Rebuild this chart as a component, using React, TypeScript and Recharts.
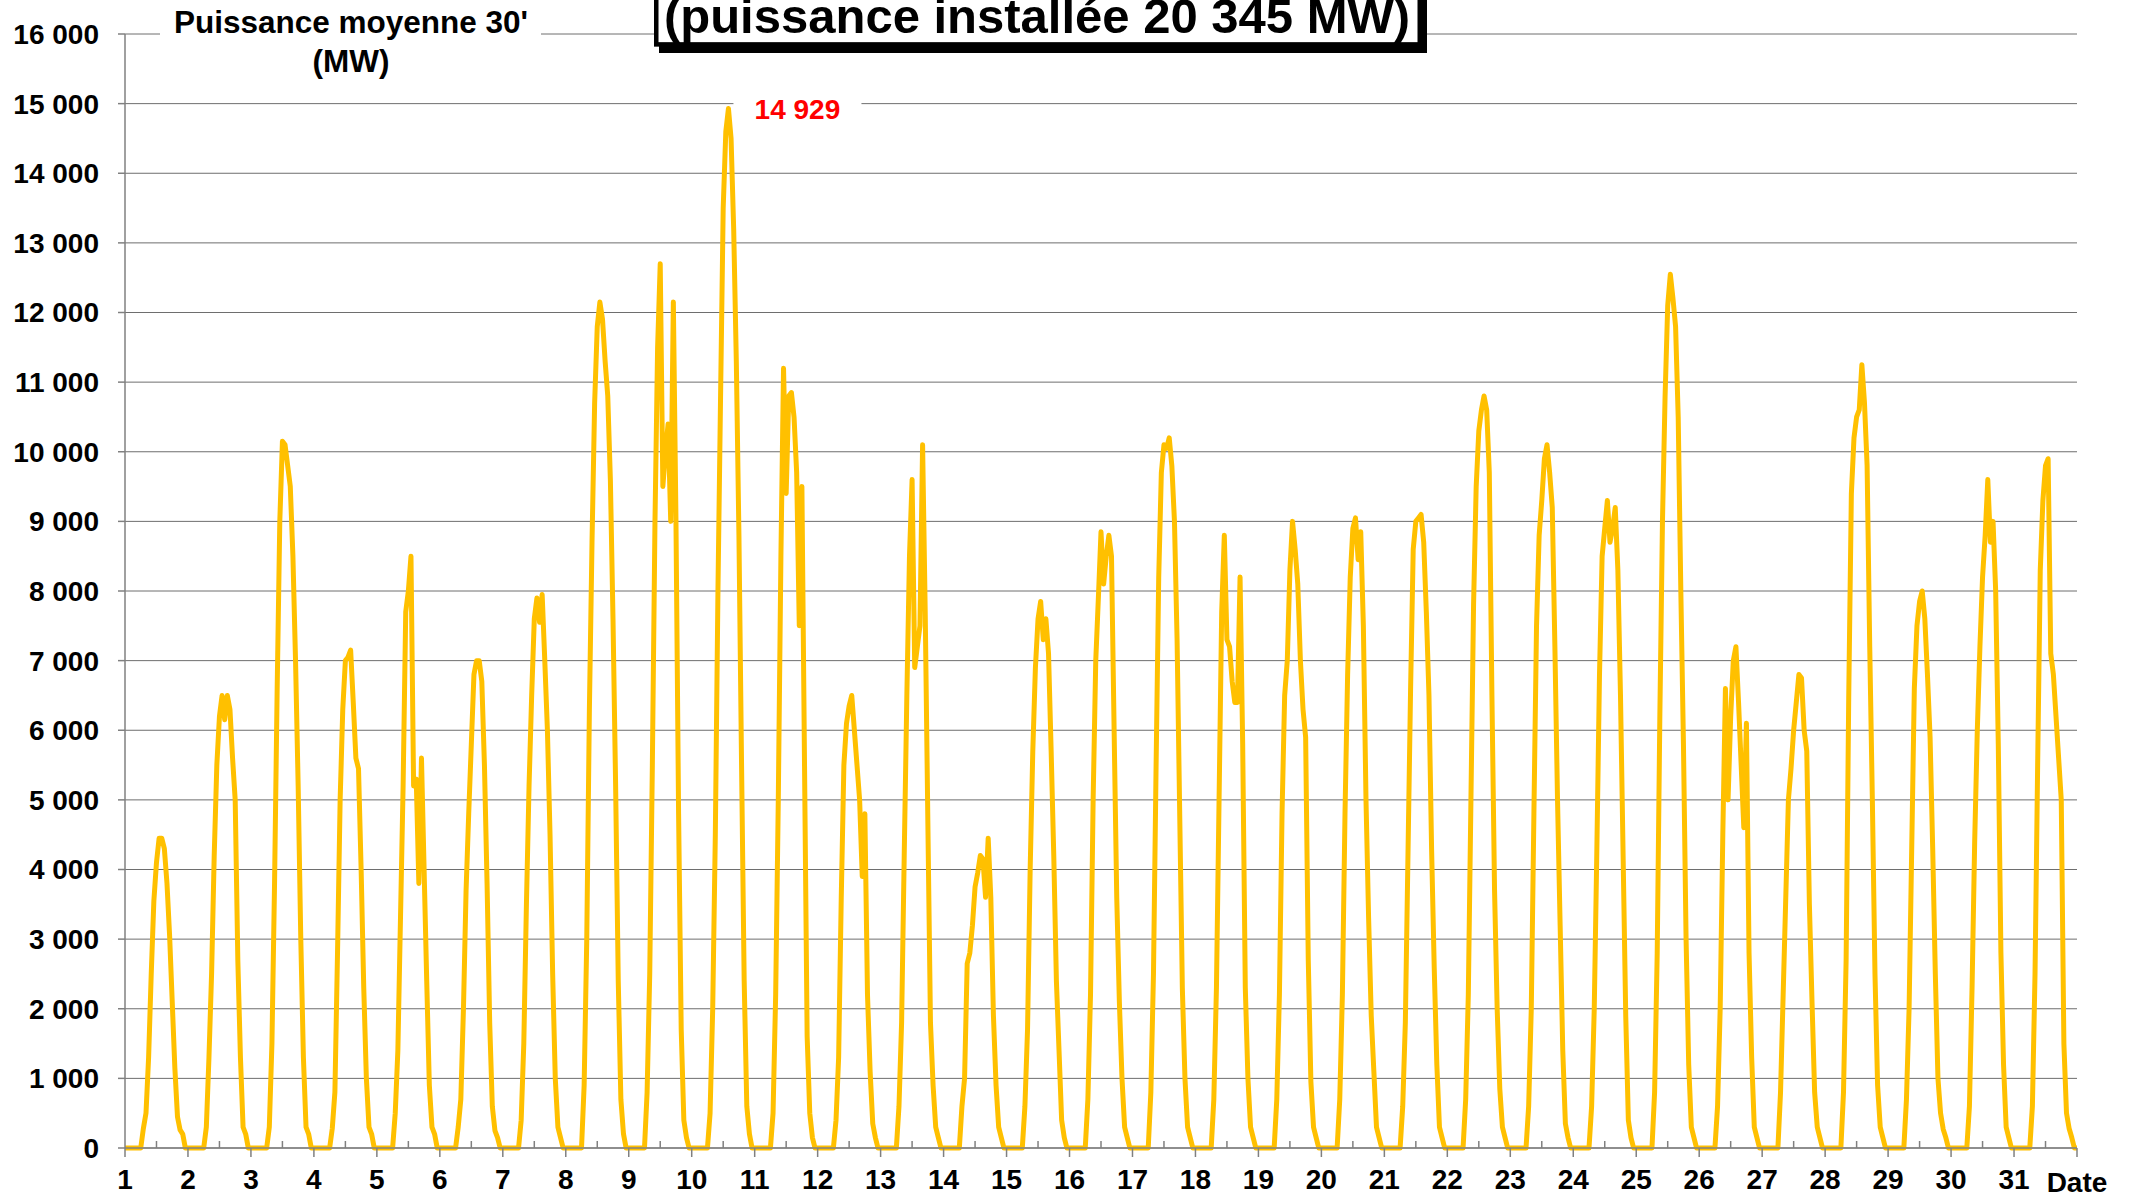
import { LineChart, Line, XAxis, YAxis, CartesianGrid, ReferenceDot } from 'recharts'

const FONT = '"Liberation Sans", Arial, sans-serif'
const GOLD = '#FFC000'
const AXIS = '#808080'

// half-hourly curve read hour by hour, from 07:00 to 22:00 (night = 0)
const FIRST_HOUR = 7
const d01 = [280, 500, 1300, 2500, 3550, 4100, 4450, 4450, 4300, 3800, 3050, 2100, 1150, 450, 260, 200]
const d02 = [300, 1300, 2500, 4200, 5500, 6200, 6500, 6150, 6500, 6300, 5600, 5000, 2700, 1300, 300, 200]
const d03 = [300, 1500, 3800, 6600, 9000, 10150, 10100, 9800, 9500, 8500, 7000, 5200, 3000, 1300, 300, 200]
const d04 = [280, 800, 2800, 5000, 6300, 7000, 7050, 7150, 6400, 5600, 5450, 4000, 2300, 1000, 300, 200]
const d05 = [500, 1400, 3300, 5200, 7700, 8000, 8500, 5200, 5300, 3800, 5600, 4000, 2400, 900, 300, 200]
const d06 = [300, 700, 2000, 3700, 4800, 5800, 6800, 7000, 7000, 6700, 5500, 3800, 1800, 600, 250, 150]
const d07 = [400, 1500, 3500, 5200, 6500, 7600, 7900, 7550, 7950, 7000, 6000, 4500, 2500, 1000, 300, 150]
const d08 = [900, 3000, 6300, 8700, 10700, 11800, 12150, 11900, 11300, 10800, 9600, 7600, 5200, 2400, 700, 200]
const d09 = [800, 2500, 5500, 9000, 11500, 12700, 9500, 10000, 10400, 9000, 12150, 9000, 4800, 1700, 400, 150]
const d10 = [500, 2000, 4500, 8000, 10800, 13500, 14600, 14929, 14500, 13200, 11300, 8800, 5500, 2400, 600, 200]
const d11 = [500, 2200, 5000, 8500, 11200, 9400, 10800, 10850, 10500, 9700, 7500, 9500, 5500, 1600, 500, 150]
const d12 = [400, 1300, 3600, 5500, 6100, 6350, 6500, 6000, 5500, 5000, 3900, 4800, 2200, 1100, 350, 150]
const d13 = [600, 1800, 4200, 6500, 8500, 9600, 6900, 7200, 7500, 10100, 7700, 4700, 1800, 900, 300, 150]
const d14 = [600, 1000, 2650, 2800, 3200, 3750, 3950, 4200, 4150, 3600, 4450, 3600, 1900, 900, 300, 150]
const d15 = [600, 1700, 4000, 5700, 6900, 7600, 7850, 7300, 7600, 7100, 5700, 4200, 2400, 1400, 400, 150]
const d16 = [700, 2200, 5000, 7000, 7900, 8850, 8100, 8500, 8800, 8500, 6000, 3600, 2100, 1000, 300, 150]
const d17 = [800, 2500, 5500, 8200, 9700, 10100, 10050, 10200, 9800, 9000, 7300, 4800, 2300, 1000, 300, 150]
const d18 = [700, 2300, 5000, 7700, 8800, 7300, 7200, 6700, 6400, 6400, 8200, 5800, 2300, 1000, 300, 150]
const d19 = [700, 2200, 4800, 6500, 7000, 8300, 9000, 8600, 8100, 7000, 6300, 5900, 2700, 950, 300, 150]
const d20 = [700, 2200, 4800, 6800, 8200, 8900, 9050, 8450, 8850, 7500, 5000, 3300, 1900, 1100, 300, 150]
const d21 = [600, 1800, 4200, 6600, 8600, 9000, 9050, 9100, 8700, 7700, 6500, 4300, 2600, 1200, 300, 150]
const d22 = [700, 2200, 5000, 7800, 9500, 10300, 10600, 10800, 10600, 9700, 6500, 3700, 2000, 850, 300, 150]
const d23 = [600, 2000, 4800, 7500, 8800, 9300, 9900, 10100, 9700, 9200, 7200, 5000, 3200, 1400, 350, 150]
const d24 = [600, 2000, 4300, 6800, 8500, 8900, 9300, 8700, 8900, 9200, 8300, 6500, 4200, 1900, 400, 150]
const d25 = [800, 2800, 6200, 9000, 10800, 12100, 12550, 12200, 11800, 10500, 8000, 5800, 3000, 1200, 300, 150]
const d26 = [600, 2000, 4500, 6600, 5000, 6200, 7000, 7200, 6400, 5500, 4600, 6100, 2800, 1300, 300, 150]
const d27 = [800, 2200, 3600, 5000, 5450, 6000, 6400, 6800, 6750, 6000, 5700, 3500, 2100, 800, 300, 150]
const d28 = [800, 2700, 6500, 9400, 10200, 10500, 10600, 11250, 10700, 9800, 7200, 5000, 2500, 900, 300, 150]
const d29 = [700, 2000, 4300, 6600, 7500, 7850, 8000, 7600, 6800, 5900, 4300, 2500, 1000, 500, 270, 150]
const d30 = [600, 2300, 4400, 6000, 7200, 8200, 8800, 9600, 8700, 9000, 8000, 5800, 2800, 1200, 300, 150]
const d31 = [600, 2500, 5500, 8300, 9300, 9800, 9900, 7100, 6800, 6200, 5600, 5000, 1500, 500, 280, 150]

const DAYS = [d01, d02, d03, d04, d05, d06, d07, d08, d09, d10, d11, d12, d13, d14, d15, d16,
  d17, d18, d19, d20, d21, d22, d23, d24, d25, d26, d27, d28, d29, d30, d31]

const DAY_LABELS = ['1', '2', '3', '4', '5', '6', '7', '8', '9', '10', '11', '12', '13', '14', '15', '16',
  '17', '18', '19', '20', '21', '22', '23', '24', '25', '26', '27', '28', '29', '30', '31', 'Date']

const Y_TICKS = [0, 1000, 2000, 3000, 4000, 5000, 6000, 7000, 8000, 9000, 10000, 11000, 12000, 13000, 14000, 15000, 16000]

const NIGHT_MW = 0

const data: { t: number; mw: number }[] = []
DAYS.forEach((vals, d) => {
  for (let h = 0; h < 24; h++) {
    const i = h - FIRST_HOUR
    data.push({ t: d + h / 24, mw: i >= 0 && i < vals.length ? vals[i] : NIGHT_MW })
  }
})
data.push({ t: DAYS.length, mw: NIGHT_MW })

const peak = data.reduce((a, b) => (b.mw > a.mw ? b : a))

// day boundaries + noon minor ticks
const X_TICKS = DAY_LABELS.flatMap((_, i) => (i < DAYS.length ? [i, i + 0.5] : [i]))

const fmt = (v: number) => String(v).replace(/\B(?=(\d{3})+(?!\d))/g, ' ')

const XTick = (props: any) => {
  const { x, y, payload } = props
  const v = payload.value as number
  const idx = Math.round(v)
  if (Math.abs(v - idx) > 1e-6) {
    return <line x1={x} y1={y} x2={x} y2={y - 7} stroke={AXIS} strokeWidth={1.5} />
  }
  const label = DAY_LABELS[idx]
  return (
    <g>
      <line x1={x} y1={y} x2={x} y2={y + 9} stroke={AXIS} strokeWidth={1.5} />
      <text x={x} y={y + (label === 'Date' ? 44 : 41)} textAnchor="middle" fontFamily={FONT}
        fontWeight="bold" fontSize={28} fill="#000">{label}</text>
    </g>
  )
}

const PeakLabel = (props: any) => {
  const { viewBox } = props
  const cx = viewBox.x + (viewBox.width || 0) / 2
  const cy = viewBox.y + (viewBox.height || 0) / 2
  return (
    <g>
      <rect x={cx + 5} y={cy - 15} width={128} height={30} fill="#fff" />
      <text x={cx + 69} y={cy + 10} textAnchor="middle" fontFamily={FONT} fontWeight="bold"
        fontSize={28} fill="#FF0000">{fmt(peak.mw)}</text>
    </g>
  )
}

export default function App() {
  return (
    <div style={{ position: 'relative', width: 2135, height: 1202, overflow: 'hidden', background: '#fff' }}>
      <style>{'body{margin:0}'}</style>
      <LineChart width={2135} height={1202} data={data} margin={{ top: 34, right: 58, bottom: 0, left: 0 }}>
        <CartesianGrid vertical={false} stroke="#6e6e6e" strokeWidth={1} />
        <XAxis dataKey="t" type="number" domain={[0, DAYS.length]} ticks={X_TICKS} interval={0}
          height={54} tickSize={0} tickMargin={0} tickLine={false}
          axisLine={{ stroke: AXIS, strokeWidth: 1.5 }} tick={<XTick />} />
        <YAxis type="number" domain={[0, 16000]} ticks={Y_TICKS} interval={0} width={125}
          tickFormatter={fmt} tickSize={7} tickMargin={19}
          axisLine={{ stroke: AXIS, strokeWidth: 1.5 }} tickLine={{ stroke: AXIS, strokeWidth: 1.5 }}
          tick={{ fontSize: 28, fontWeight: 'bold', fill: '#000', fontFamily: FONT }} />
        <Line type="linear" dataKey="mw" stroke={GOLD} strokeWidth={5} dot={false}
          strokeLinejoin="round" isAnimationActive={false} />
        <ReferenceDot x={peak.t} y={peak.mw} r={0} fill="none" stroke="none" label={<PeakLabel />} />
      </LineChart>

      <svg width={2135} height={1202} style={{ position: 'absolute', left: 0, top: 0, pointerEvents: 'none' }}>
        <rect x={160} y={20} width={381} height={28} fill="#fff" />
        <text x={351} y={33} textAnchor="middle" fontFamily={FONT} fontWeight="bold" fontSize={31.5} fill="#000">
          Puissance moyenne 30'
        </text>
        <text x={351} y={72} textAnchor="middle" fontFamily={FONT} fontWeight="bold" fontSize={31.5} fill="#000">
          (MW)
        </text>

        <rect x={659} y={-10} width={768} height={63} fill="#000" />
        <rect x={656.25} y={-10} width={763.5} height={54.4} fill="#fff" stroke="#000" strokeWidth={4.5} />
        <text x={1037} y={33} textAnchor="middle" fontFamily={FONT} fontWeight="bold" fontSize={49} fill="#000">
          (puissance installée 20 345 MW)
        </text>
      </svg>
    </div>
  )
}
